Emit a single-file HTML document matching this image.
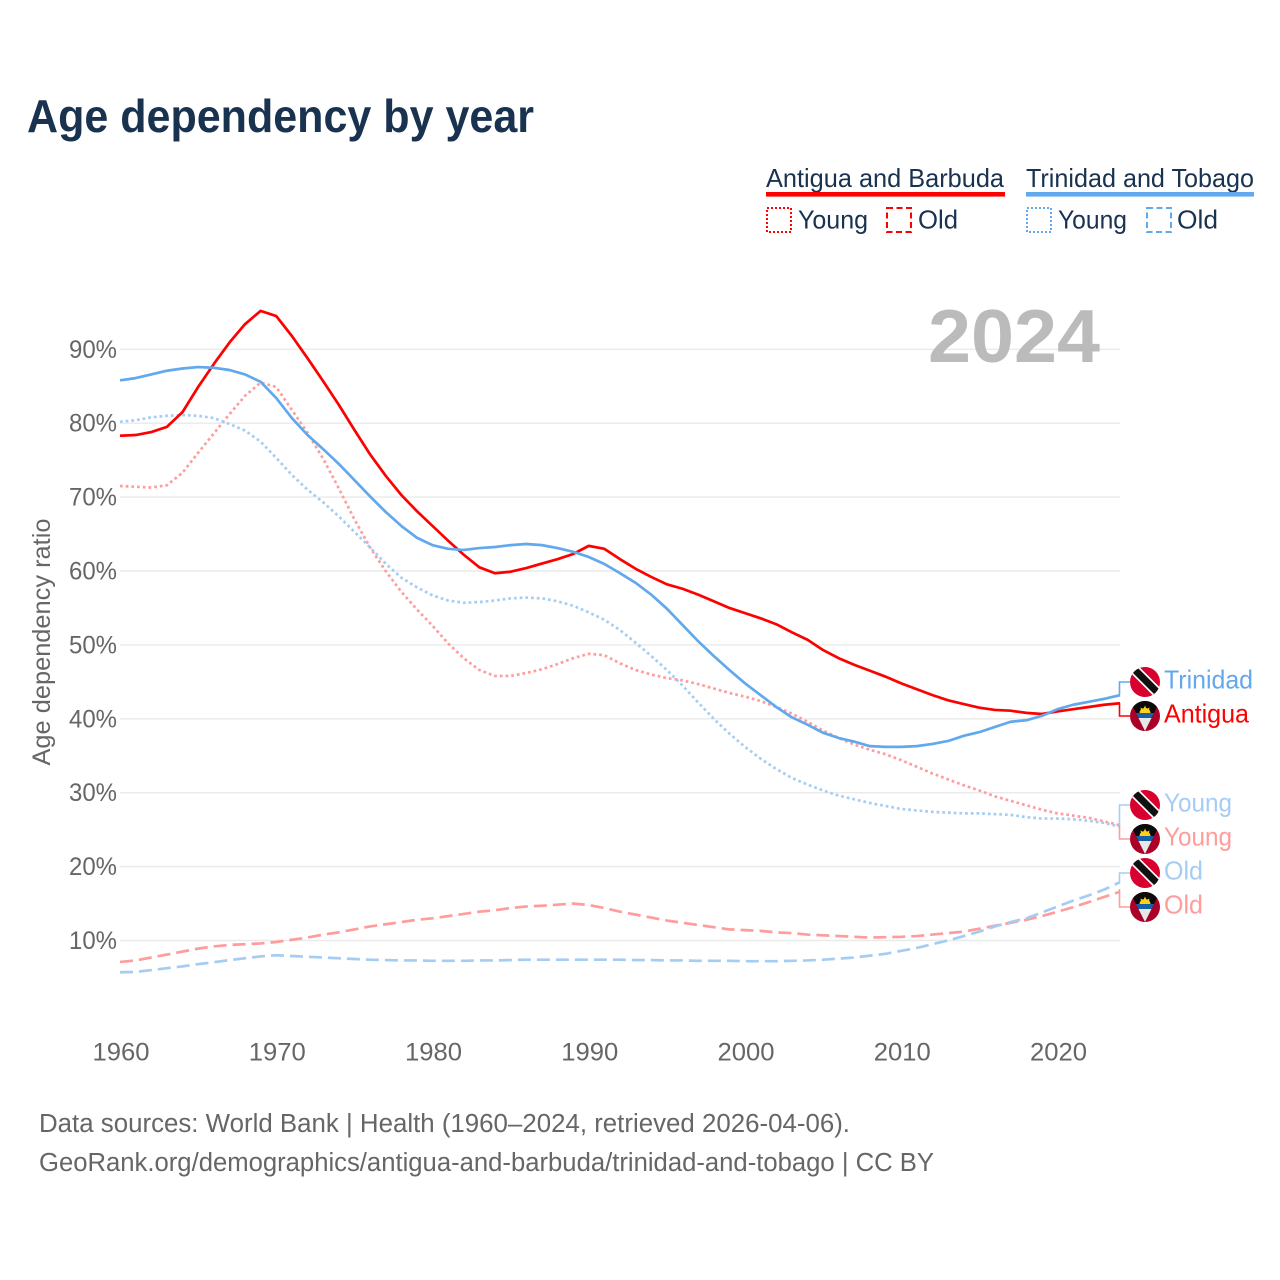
<!DOCTYPE html>
<html lang="en">
<head>
<meta charset="utf-8">
<title>Age dependency by year</title>
<style>
html,body{margin:0;padding:0;background:#fff;}
svg{display:block;}
text{font-family:"Liberation Sans",sans-serif;}
</style>
</head>
<body>
<svg id="chart" width="1280" height="1280" viewBox="0 0 1280 1280" xmlns="http://www.w3.org/2000/svg">
  <defs>
    <clipPath id="flag-clip"><circle cx="0" cy="0" r="15"/></clipPath>
    <g id="flag-tt" clip-path="url(#flag-clip)">
      <rect x="-15" y="-15" width="30" height="30" fill="#D8002F"/>
      <line x1="-12" y1="-14" x2="13" y2="11" stroke="#fff" stroke-width="10.5"/>
      <line x1="-12" y1="-14" x2="13" y2="11" stroke="#111" stroke-width="7"/>
    </g>
    <g id="flag-ag" clip-path="url(#flag-clip)">
      <rect x="-15" y="-15" width="30" height="30" fill="#AB0128"/>
      <polygon points="-15,-15 15,-15 0,15" fill="#0b0b0b"/>
      <polygon points="-9,-3 9,-3 6.5,2 -6.5,2" fill="#1560A8"/>
      <polygon points="-6.5,2 6.5,2 0,15" fill="#E8E8E8"/>
      <path d="M-5.5,-3 A5.5,5 0 0 1 5.5,-3 Z" fill="#FCD116"/>
      <polygon points="0,-10.5 1.5,-7 4.5,-8.5 3.8,-5 -3.8,-5 -4.5,-8.5 -1.5,-7" fill="#FCD116"/>
    </g>
  </defs>

  <text x="27" y="132" font-size="46" font-weight="700" fill="#18324F" textLength="507" lengthAdjust="spacingAndGlyphs">Age dependency by year</text>

  <g>
    <text x="766" y="187" font-size="26" fill="#18324F" textLength="238" lengthAdjust="spacingAndGlyphs">Antigua and Barbuda</text>
    <rect x="766" y="192" width="239" height="4.6" fill="#FF0000"/>
    <text x="1026" y="187" font-size="26" fill="#18324F" textLength="228" lengthAdjust="spacingAndGlyphs">Trinidad and Tobago</text>
    <rect x="1026" y="192" width="228" height="4.6" fill="#62A8EC"/>

    <rect x="767" y="208" width="24" height="24" fill="none" stroke="#FF0000" stroke-width="2" stroke-dasharray="2 2"/>
    <text x="798" y="228.5" font-size="26" fill="#18324F" textLength="70" lengthAdjust="spacingAndGlyphs">Young</text>
    <rect x="887" y="208" width="24" height="24" fill="none" stroke="#FF0000" stroke-width="2" stroke-dasharray="6 3.5"/>
    <text x="918" y="228.5" font-size="26" fill="#18324F" textLength="40" lengthAdjust="spacingAndGlyphs">Old</text>

    <rect x="1027" y="208" width="24" height="24" fill="none" stroke="#62A8EC" stroke-width="2" stroke-dasharray="2 2"/>
    <text x="1058" y="228.5" font-size="26" fill="#18324F" textLength="69" lengthAdjust="spacingAndGlyphs">Young</text>
    <rect x="1147" y="208" width="24" height="24" fill="none" stroke="#62A8EC" stroke-width="2" stroke-dasharray="6 3.5"/>
    <text x="1177" y="228.5" font-size="26" fill="#18324F" textLength="41" lengthAdjust="spacingAndGlyphs">Old</text>
  </g>

  <g id="grid"></g>

  <text x="928" y="362" font-size="75" font-weight="700" fill="#BBBBBB" textLength="172" lengthAdjust="spacingAndGlyphs">2024</text>

  <text transform="translate(50,642) rotate(-90)" text-anchor="middle" font-size="25" fill="#666" textLength="247" lengthAdjust="spacingAndGlyphs">Age dependency ratio</text>

  <g id="y-ticks"></g>
  <g id="x-ticks"></g>
  <g id="series"></g>

  <g fill="none" stroke-width="1.6">
    <path d="M1119.5 695V682H1130" stroke="#62A8EC"/>
    <path d="M1119.5 703V716H1130" stroke="#FF0000"/>
    <path d="M1119.5 825V805H1130" stroke="#A5CDF4"/>
    <path d="M1119.5 825V839H1130" stroke="#FF9C9C"/>
    <path d="M1119.5 882V873H1130" stroke="#A5CDF4"/>
    <path d="M1119.5 889V907H1130" stroke="#FF9C9C"/>
  </g>

  <g>
    <use href="#flag-tt" x="1145" y="682"/>
    <text x="1164" y="688.5" font-size="26" fill="#62A8EC" textLength="89" lengthAdjust="spacingAndGlyphs">Trinidad</text>
    <use href="#flag-ag" x="1145" y="716"/>
    <text x="1164" y="722.5" font-size="26" fill="#FF0000" textLength="85" lengthAdjust="spacingAndGlyphs">Antigua</text>
    <use href="#flag-tt" x="1145" y="805"/>
    <text x="1164" y="811.5" font-size="26" fill="#A5CDF4" textLength="68" lengthAdjust="spacingAndGlyphs">Young</text>
    <use href="#flag-ag" x="1145" y="839"/>
    <text x="1164" y="845.5" font-size="26" fill="#FF9C9C" textLength="68" lengthAdjust="spacingAndGlyphs">Young</text>
    <use href="#flag-tt" x="1145" y="873"/>
    <text x="1164" y="879.5" font-size="26" fill="#A5CDF4" textLength="39" lengthAdjust="spacingAndGlyphs">Old</text>
    <use href="#flag-ag" x="1145" y="907"/>
    <text x="1164" y="913.5" font-size="26" fill="#FF9C9C" textLength="39" lengthAdjust="spacingAndGlyphs">Old</text>
  </g>

  <text x="39" y="1132" font-size="25.5" fill="#666" textLength="811" lengthAdjust="spacingAndGlyphs">Data sources: World Bank | Health (1960–2024, retrieved 2026-04-06).</text>
  <text x="39" y="1171" font-size="25.5" fill="#666" textLength="895" lengthAdjust="spacingAndGlyphs">GeoRank.org/demographics/antigua-and-barbuda/trinidad-and-tobago | CC BY</text>
</svg>

<script>
const startYear = 1960;
const yTickValues = [10, 20, 30, 40, 50, 60, 70, 80, 90];
const yTickLabels = ["10%", "20%", "30%", "40%", "50%", "60%", "70%", "80%", "90%"];
const xTickValues = [1960, 1970, 1980, 1990, 2000, 2010, 2020];
const xTickLabels = ["1960", "1970", "1980", "1990", "2000", "2010", "2020"];

const antiguaTotal = [
  78.3, 78.4, 78.8, 79.5, 81.5, 84.9, 88.0, 90.9, 93.4, 95.2,
  94.5, 91.8, 88.8, 85.7, 82.5, 79.1, 75.8, 72.9, 70.3, 68.1,
  66.1, 64.1, 62.2, 60.5, 59.7, 59.9, 60.4, 61.0, 61.6, 62.3,
  63.4, 63.0, 61.6, 60.3, 59.2, 58.2, 57.6, 56.8, 55.9, 55.0,
  54.3, 53.6, 52.8, 51.7, 50.7, 49.3, 48.2, 47.3, 46.5, 45.7,
  44.8, 44.0, 43.2, 42.5, 42.0, 41.5, 41.2, 41.1, 40.8, 40.65,
  41.0, 41.3, 41.6, 41.9, 42.1
];
const trinidadTotal = [
  85.8, 86.1, 86.6, 87.1, 87.4, 87.6, 87.5, 87.2, 86.6, 85.6,
  83.4, 80.7, 78.4, 76.5, 74.5, 72.3, 70.1, 68.0, 66.1, 64.5,
  63.5, 63.0, 62.85, 63.1, 63.25, 63.5, 63.65, 63.5, 63.1, 62.6,
  61.9, 60.95, 59.7, 58.4, 56.8, 54.9, 52.7, 50.5, 48.5, 46.6,
  44.8, 43.2, 41.6, 40.2, 39.2, 38.1, 37.4, 36.9, 36.3, 36.2,
  36.2, 36.3, 36.6, 37.0, 37.7, 38.2, 38.9, 39.6, 39.8, 40.4,
  41.3, 41.9, 42.3, 42.7, 43.2
];
const antiguaYoung = [
  71.5, 71.4, 71.3, 71.6, 73.3, 76.0, 78.6, 81.2, 83.7, 85.5,
  84.9, 81.8, 78.7, 75.2, 71.2, 67.0, 63.2, 60.0, 57.2, 54.8,
  52.6, 50.2, 48.2, 46.6, 45.8, 45.8, 46.2, 46.7, 47.4, 48.2,
  48.8, 48.6, 47.5, 46.6, 46.0, 45.5, 45.2, 44.7, 44.1, 43.5,
  43.0, 42.4, 41.6, 40.7, 39.6, 38.4, 37.4, 36.5, 35.8, 35.2,
  34.4, 33.5, 32.6, 31.8, 31.0, 30.3, 29.5, 28.9, 28.3, 27.7,
  27.2, 26.9, 26.6, 26.1, 25.6
];
const trinidadYoung = [
  80.2, 80.4, 80.8, 81.0, 81.1, 81.0, 80.7, 79.9, 79.0, 77.5,
  75.3, 73.0, 71.0, 69.3, 67.4, 65.3, 63.2, 61.0, 59.1, 57.8,
  56.7, 56.0, 55.7, 55.8, 56.0, 56.3, 56.4, 56.3, 55.9, 55.3,
  54.4, 53.4, 52.0, 50.3, 48.5, 46.6, 44.5, 42.2, 40.0, 38.0,
  36.2, 34.6, 33.2, 32.0, 31.1, 30.3, 29.6, 29.1, 28.6, 28.2,
  27.8, 27.6, 27.4, 27.3, 27.2, 27.2, 27.1, 27.0, 26.7, 26.5,
  26.5, 26.4, 26.2, 25.9, 25.4
];
const antiguaOld = [
  7.1, 7.3, 7.7, 8.1, 8.5, 8.9, 9.2, 9.4, 9.5, 9.6,
  9.8, 10.1, 10.4, 10.8, 11.1, 11.5, 11.9, 12.2, 12.5, 12.8,
  13.0, 13.3, 13.6, 13.9, 14.1, 14.4, 14.6, 14.7, 14.85, 15.0,
  14.8, 14.4, 13.9, 13.5, 13.1, 12.7, 12.4, 12.1, 11.8, 11.5,
  11.4, 11.3, 11.1, 11.0, 10.8, 10.7, 10.6, 10.5, 10.4, 10.45,
  10.5, 10.6, 10.8, 11.0, 11.2, 11.6, 12.0, 12.4, 12.8, 13.3,
  13.9, 14.5, 15.2, 15.9, 16.6
];
const trinidadOld = [
  5.7, 5.75, 6.0, 6.25, 6.5, 6.8, 7.05, 7.35, 7.6, 7.85,
  8.0, 7.9, 7.8, 7.7, 7.6, 7.5, 7.4, 7.35, 7.3, 7.3,
  7.25, 7.25, 7.25, 7.3, 7.3, 7.35, 7.4, 7.4, 7.4, 7.4,
  7.4, 7.4, 7.4, 7.35, 7.35, 7.3, 7.3, 7.25, 7.25, 7.25,
  7.2, 7.2, 7.2, 7.25, 7.3, 7.4, 7.55, 7.7, 7.95, 8.2,
  8.6, 9.0, 9.5, 10.0, 10.6, 11.2, 11.9, 12.5, 13.0, 13.8,
  14.6, 15.4, 16.1, 16.9, 17.9
];

const SVGNS = "http://www.w3.org/2000/svg";
function xScale(year) { return 120 + (year - startYear) * 15.625; }
function yScale(value) { return 1014.4 - value * 7.39; }
function linePath(values) {
  return values.map(function (v, i) {
    return (i ? "L" : "M") + xScale(startYear + i).toFixed(2) + " " + yScale(v).toFixed(2);
  }).join("");
}

const gridGroup = document.getElementById("grid");
const yTickGroup = document.getElementById("y-ticks");
yTickValues.forEach(function (v, i) {
  const ln = document.createElementNS(SVGNS, "line");
  ln.setAttribute("x1", 120);
  ln.setAttribute("x2", 1120);
  ln.setAttribute("y1", yScale(v));
  ln.setAttribute("y2", yScale(v));
  ln.setAttribute("stroke", "#EAEAEA");
  ln.setAttribute("stroke-width", "1.4");
  
  
  gridGroup.appendChild(ln);

  const t = document.createElementNS(SVGNS, "text");
  t.setAttribute("x", 117);
  t.setAttribute("y", yScale(v) + 8.5);
  t.setAttribute("text-anchor", "end");
  t.setAttribute("font-size", "25");
  t.setAttribute("fill", "#666");
  t.setAttribute("textLength", "48");
  t.setAttribute("lengthAdjust", "spacingAndGlyphs");
  t.textContent = yTickLabels[i];
  
  
  yTickGroup.appendChild(t);
});

const xTickGroup = document.getElementById("x-ticks");
xTickValues.forEach(function (year, i) {
  const t = document.createElementNS(SVGNS, "text");
  t.setAttribute("x", xScale(year) + 1);
  t.setAttribute("y", 1060.5);
  t.setAttribute("text-anchor", "middle");
  t.setAttribute("font-size", "25");
  t.setAttribute("fill", "#666");
  t.setAttribute("textLength", "57");
  t.setAttribute("lengthAdjust", "spacingAndGlyphs");
  t.textContent = xTickLabels[i];
  
  
  xTickGroup.appendChild(t);
});

const seriesGroup = document.getElementById("series");
function addLine(values, color, width, dash, name) {
  const p = document.createElementNS(SVGNS, "path");
  p.setAttribute("d", linePath(values));
  p.setAttribute("fill", "none");
  p.setAttribute("stroke", color);
  p.setAttribute("stroke-width", width);
  p.setAttribute("stroke-linejoin", "round");
  if (dash) p.setAttribute("stroke-dasharray", dash);
  
  
  seriesGroup.appendChild(p);
}
addLine(antiguaYoung, "#FF9C9C", 2.7, "2.7 3", "line-antigua-young");
addLine(trinidadYoung, "#A5CDF4", 2.7, "2.7 3", "line-trinidad-young");
addLine(antiguaOld, "#FF9C9C", 2.7, "13 6", "line-antigua-old");
addLine(trinidadOld, "#A5CDF4", 2.7, "13 6", "line-trinidad-old");
addLine(antiguaTotal, "#FF0000", 2.7, "", "line-antigua-total");
addLine(trinidadTotal, "#62A8EC", 2.7, "", "line-trinidad-total");
</script>
</body>
</html>
